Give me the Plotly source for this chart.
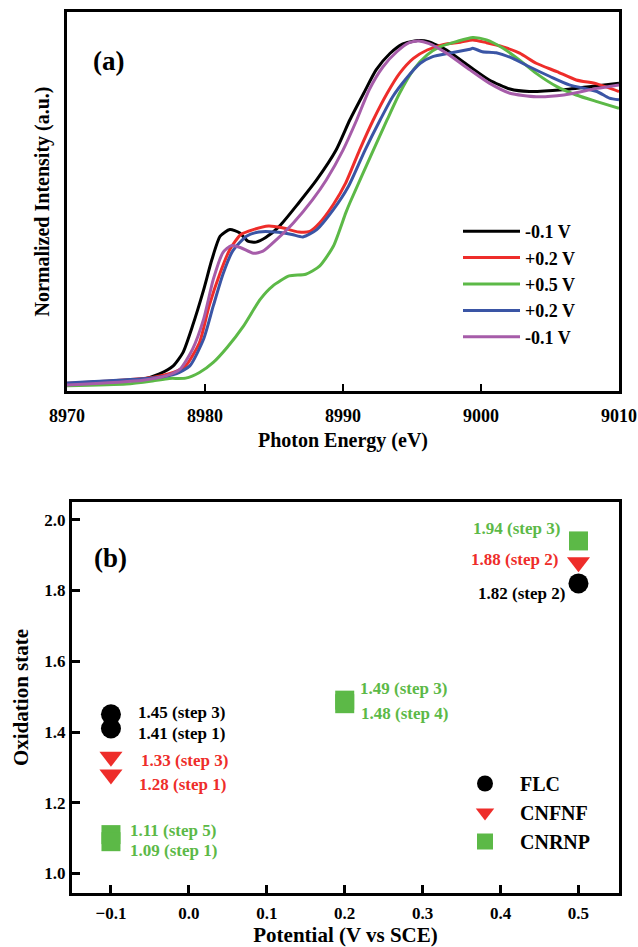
import plotly.graph_objects as go

# ---------------- Panel (a): XANES spectra ----------------
legend_names = ["-0.1 V", "+0.2 V", "+0.5 V", "+0.2 V", "-0.1 V"]

e_black = [8970, 8973.1, 8975.5, 8976.7, 8977.7, 8978.4, 8979.1, 8979.9, 8980.5, 8981.1, 8981.8,
           8982.5, 8983.1, 8983.7, 8984.4, 8985.4, 8986.8, 8988.1, 8989.5, 8990.5, 8991.5, 8992.4,
           8993.4, 8994.3, 8995.4, 8996.2, 8997.5, 8999.2, 9000.6, 9002.1, 9003.5, 9005.9, 9008.3, 9010]
i_black = [0.010, 0.017, 0.024, 0.039, 0.062, 0.100, 0.177, 0.280, 0.367, 0.434, 0.453,
           0.444, 0.420, 0.417, 0.430, 0.463, 0.530, 0.596, 0.681, 0.768, 0.844, 0.911,
           0.958, 0.985, 0.995, 0.992, 0.968, 0.920, 0.882, 0.856, 0.849, 0.854, 0.865, 0.873]

e_red = [8970, 8973.1, 8976.2, 8977.7, 8978.6, 8979.6, 8980.3, 8981.1, 8981.8, 8982.6, 8983.5,
         8984.6, 8985.6, 8986.8, 8987.6, 8988.3, 8989.3, 8990.2, 8991.2, 8992.2, 8993.2, 8994.1,
         8995.1, 8996.1, 8997.3, 8998.5, 8999.4, 9000.4, 9001.6, 9002.8, 9004.0, 9005.5, 9006.9,
         9008.4, 9010]
i_red = [0.012, 0.019, 0.029, 0.043, 0.062, 0.129, 0.234, 0.329, 0.396, 0.439, 0.453,
         0.463, 0.458, 0.446, 0.448, 0.472, 0.525, 0.587, 0.681, 0.768, 0.844, 0.901,
         0.944, 0.968, 0.984, 0.990, 0.997, 0.989, 0.977, 0.959, 0.930, 0.906, 0.882,
         0.871, 0.849]

e_green = [8970, 8974.3, 8976.2, 8977.4, 8978.6, 8979.6, 8980.6, 8981.6, 8982.8, 8984.0, 8984.9,
           8986.1, 8987.3, 8988.3, 8989.3, 8990.2, 8990.5, 8992.2, 8993.2, 8994.1, 8995.1, 8996.1,
           8997.0, 8998.2, 8999.4, 9000.4, 9001.6, 9002.8, 9004.0, 9005.5, 9006.9, 9008.4, 9010]
i_green = [0.005, 0.010, 0.019, 0.026, 0.027, 0.043, 0.072, 0.115, 0.177, 0.253, 0.291,
           0.320, 0.325, 0.348, 0.405, 0.501, 0.530, 0.681, 0.768, 0.844, 0.911, 0.954,
           0.977, 0.992, 1.004, 0.997, 0.973, 0.939, 0.901, 0.863, 0.839, 0.820, 0.801]

e_blue = [8970, 8971.9, 8976.2, 8977.9, 8978.9, 8979.9, 8980.6, 8981.3, 8982.0, 8983.0, 8983.9,
          8985.1, 8986.3, 8987.1, 8988.1, 8989.3, 8990.4, 8991.6, 8992.7, 8993.6, 8994.6, 8995.6,
          8996.5, 8997.7, 8999.2, 8999.4, 9000.1, 9001.1, 9002.3, 9003.5, 9005.0, 9006.4, 9008.4,
          9009.3, 9010]
i_blue = [0.013, 0.017, 0.027, 0.039, 0.062, 0.139, 0.234, 0.325, 0.391, 0.434, 0.446,
          0.446, 0.439, 0.432, 0.453, 0.510, 0.577, 0.681, 0.768, 0.834, 0.887, 0.930,
          0.949, 0.959, 0.970, 0.973, 0.963, 0.960, 0.944, 0.920, 0.892, 0.868, 0.849,
          0.830, 0.825]

e_purple = [8970, 8975.5, 8977.2, 8978.2, 8979.1, 8979.9, 8980.6, 8981.3, 8981.9, 8982.6, 8983.5,
            8984.2, 8985.2, 8986.4, 8987.8, 8988.8, 8990.0, 8991.0, 8991.9, 8992.9, 8993.9, 8994.8,
            8995.5, 8996.2, 8997.5, 8999.2, 9000.6, 9002.1, 9004.0, 9006.0, 9008.4, 9010]
i_purple = [0.007, 0.021, 0.034, 0.053, 0.110, 0.196, 0.310, 0.387, 0.407, 0.401, 0.385,
            0.391, 0.425, 0.472, 0.539, 0.596, 0.681, 0.768, 0.854, 0.920, 0.963, 0.989,
            0.994, 0.987, 0.959, 0.911, 0.873, 0.844, 0.834, 0.839, 0.858, 0.868]

# ---------------- Panel (b): oxidation states ----------------
flc_x = [-0.1, -0.1, 0.5]
flc_y = [1.45, 1.41, 1.82]
flc_lbl = ["1.45 (step 3)", "1.41 (step 1)", "1.82 (step 2)"]

cnfnf_x = [-0.1, -0.1, 0.5]
cnfnf_y = [1.33, 1.28, 1.88]
cnfnf_lbl = ["1.33 (step 3)", "1.28 (step 1)", "1.88 (step 2)"]

cnrnp_x = [-0.1, -0.1, 0.2, 0.2, 0.5]
cnrnp_y = [1.11, 1.09, 1.49, 1.48, 1.94]
cnrnp_lbl = ["1.11 (step 5)", "1.09 (step 1)", "1.49 (step 3)", "1.48 (step 4)", "1.94 (step 3)"]

# ---------------- Styles ----------------
FONT = "Liberation Serif, Times New Roman, serif"
C_BLACK = "#000000"
C_RED = "#ee2d2a"
C_GREEN = "#5cb947"
C_BLUE = "#3a55a5"
C_PURPLE = "#a65ca9"

W, H = 638, 947

def px_dom(a, b, total):
    return [a / total, b / total]

fig = go.Figure()

spectra = [(e_black, i_black, C_BLACK), (e_red, i_red, C_RED), (e_green, i_green, C_GREEN),
           (e_blue, i_blue, C_BLUE), (e_purple, i_purple, C_PURPLE)]
for k, (e, i, c) in enumerate(spectra):
    fig.add_trace(go.Scatter(x=e, y=i, mode="lines", name=legend_names[k],
                             line=dict(color=c, width=3, shape="spline", smoothing=0.6),
                             xaxis="x", yaxis="y", legend="legend"))

fig.add_trace(go.Scatter(x=flc_x, y=flc_y, mode="markers", name="FLC",
                         marker=dict(symbol="circle", size=20, color=C_BLACK),
                         xaxis="x2", yaxis="y2", legend="legend2"))
fig.add_trace(go.Scatter(x=cnfnf_x, y=cnfnf_y, mode="markers", name="CNFNF",
                         marker=dict(symbol="triangle-down", size=20, color=C_RED),
                         xaxis="x2", yaxis="y2", legend="legend2"))
fig.add_trace(go.Scatter(x=cnrnp_x, y=cnrnp_y, mode="markers", name="CNRNP",
                         marker=dict(symbol="square", size=19, color=C_GREEN),
                         xaxis="x2", yaxis="y2", legend="legend2"))

# label offsets (pixels) relative to each point
annos = []
def add_labels(xs, ys, labels, color, offsets):
    for xv, yv, t, (dx, dy, anchor) in zip(xs, ys, labels, offsets):
        annos.append(dict(x=xv, y=yv, xref="x2", yref="y2", text=f"<b>{t}</b>",
                          showarrow=False, xanchor=anchor, yanchor="middle",
                          xshift=dx, yshift=dy,
                          font=dict(family=FONT, size=17, color=color)))

add_labels(flc_x, flc_y, flc_lbl, C_BLACK, [(25, 2, "left"), (25, -5, "left"), (-11, -10, "right")])
add_labels(cnfnf_x, cnfnf_y, cnfnf_lbl, C_RED, [(28, -4, "left"), (26, -10, "left"), (-18, 3, "right")])
add_labels(cnrnp_x, cnrnp_y, cnrnp_lbl, C_GREEN,
           [(17, 4, "left"), (17, -9, "left"), (13, 12, "left"), (14, -10, "left"), (-16, 12, "right")])

annos.append(dict(x=91 / W, y=1 - 61 / H, xref="paper", yref="paper", text="<b>(a)</b>",
                  showarrow=False, xanchor="left", yanchor="middle",
                  font=dict(family=FONT, size=27, color="black")))
annos.append(dict(x=92 / W, y=1 - 558 / H, xref="paper", yref="paper", text="<b>(b)</b>",
                  showarrow=False, xanchor="left", yanchor="middle",
                  font=dict(family=FONT, size=27, color="black")))

tickfont18 = dict(family=FONT, size=18, color="black", weight="bold")
tickfont17 = dict(family=FONT, size=17, color="black", weight="bold")
titlefont = dict(family=FONT, size=20, color="black", weight="bold")
titlefont21 = dict(family=FONT, size=21, color="black", weight="bold")

fig.update_layout(
    width=W, height=H,
    margin=dict(l=0, r=0, t=0, b=0, autoexpand=False),
    paper_bgcolor="white", plot_bgcolor="white",
    annotations=annos,
    xaxis=dict(domain=px_dom(67, 619, W), range=[8970, 9010], tickvals=[8970, 8980, 8990, 9000, 9010],
               ticks="inside", ticklen=7, tickwidth=2, tickcolor="black", ticklabelstandoff=6,
               showline=True, linewidth=3, linecolor="black", mirror=True,
               showgrid=False, zeroline=False, tickfont=tickfont18, automargin=False,
               title=dict(text="Photon Energy (eV)", font=titlefont, standoff=9),
               anchor="y"),
    yaxis=dict(domain=[1 - 391 / H, 1 - 12 / H], range=[-0.01, 1.077], showticklabels=False,
               ticks="", showline=True, linewidth=3, linecolor="black", mirror=True,
               showgrid=False, zeroline=False, automargin=False,
               title=dict(text="Normalized Intensity (a.u.)", font=titlefont, standoff=10),
               anchor="x"),
    xaxis2=dict(domain=px_dom(72, 619, W), range=[-0.15, 0.552],
                tickvals=[-0.1, 0.0, 0.1, 0.2, 0.3, 0.4, 0.5], tickformat=".1f",
                ticks="inside", ticklen=8, tickwidth=2.5, tickcolor="black", ticklabelstandoff=3,
                showline=True, linewidth=3, linecolor="black", mirror=True,
                showgrid=False, zeroline=False, tickfont=tickfont17, automargin=False,
                title=dict(text="Potential (V vs SCE)", font=titlefont21, standoff=8),
                anchor="y2"),
    yaxis2=dict(domain=[1 - 893 / H, 1 - 502 / H], range=[0.945, 2.05],
                tickvals=[1.0, 1.2, 1.4, 1.6, 1.8, 2.0], tickformat=".1f",
                ticks="inside", ticklen=8, tickwidth=2.5, tickcolor="black",
                showline=True, linewidth=3, linecolor="black", mirror=True,
                showgrid=False, zeroline=False, tickfont=tickfont17, automargin=False,
                title=dict(text="Oxidation state", font=titlefont21, standoff=10),
                anchor="x2"),
    legend=dict(x=458 / W, y=1 - 213 / H, xanchor="left", yanchor="top",
                font=dict(family=FONT, size=18, color="black", weight="bold"),
                bgcolor="rgba(0,0,0,0)", traceorder="normal", itemwidth=57),
    legend2=dict(x=450 / W, y=1 - 764 / H, xanchor="left", yanchor="top",
                 font=dict(family=FONT, size=20, color="black", weight="bold"),
                 bgcolor="rgba(0,0,0,0)", traceorder="normal", itemwidth=60),
    showlegend=True,
)

fig.write_html("out.html", config={"displayModeBar": False},
               post_script="document.body.style.margin='0px';")
